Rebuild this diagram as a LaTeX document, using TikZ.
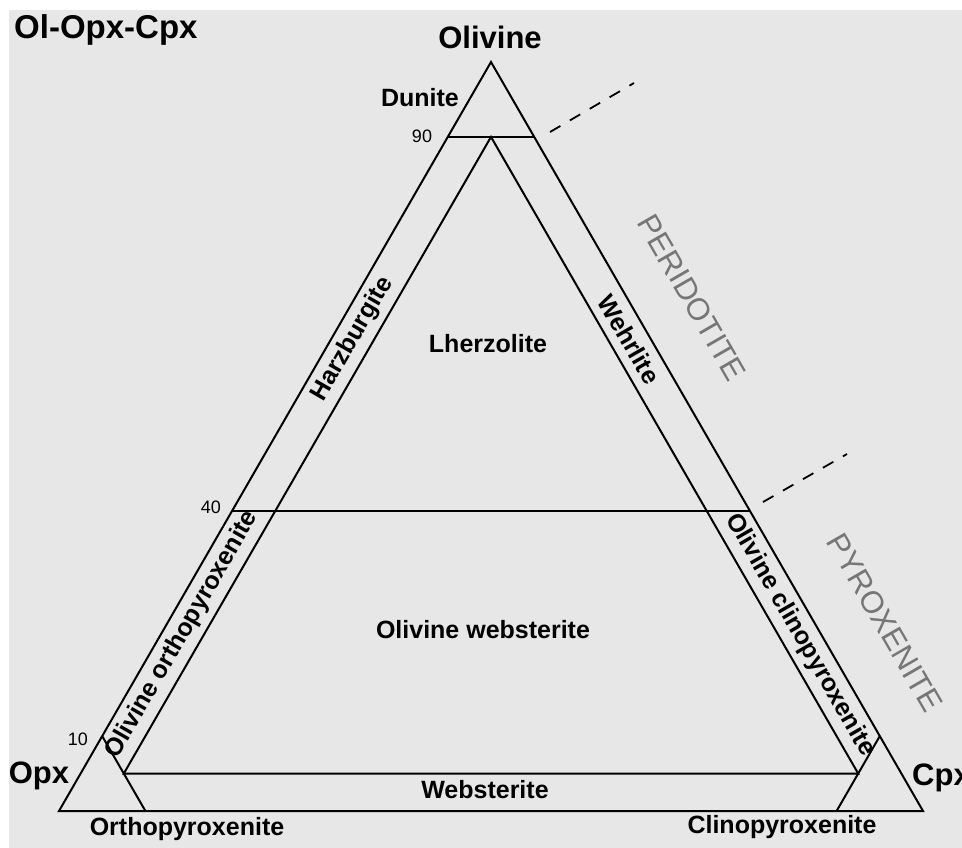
\documentclass[tikz,border=0pt]{standalone}
\usepackage{fontspec}
\setmainfont{Liberation Sans}
\definecolor{bgc}{RGB}{231,231,231}
\definecolor{zonec}{RGB}{118,118,118}
\tikzset{
  edge/.style={line width=2pt, black},
  sep/.style={line width=1.8pt, black, dash pattern=on 12pt off 11pt},
  fld/.style={font=\bfseries\fontsize{25}{28}\selectfont, inner sep=0pt},
  ttl/.style={font=\bfseries\fontsize{31}{34}\selectfont, inner sep=0pt},
  num/.style={font=\fontsize{18}{20}\selectfont, inner sep=0pt},
  zone/.style={font=\fontsize{31}{34}\selectfont, text=zonec, inner sep=0pt},
}
\begin{document}
\begin{tikzpicture}[x=1pt,y=-1pt]
\useasboundingbox (0,0) rectangle (962,848);
\fill[bgc] (9,10) rectangle (962,848);
% vertices
\coordinate (O) at (491,62);
\coordinate (P) at (59,811);
\coordinate (C) at (923,811);
% Ol 90 line
\coordinate (d1) at (barycentric cs:O=0.9,P=0.1);
\coordinate (d2) at (barycentric cs:O=0.9,C=0.1);
\coordinate (dm) at (barycentric cs:O=0.9,P=0.05,C=0.05);
% Ol 40 line
\coordinate (f1) at (barycentric cs:O=0.4,P=0.6);
\coordinate (f2) at (barycentric cs:O=0.4,C=0.6);
% Opx 90 line
\coordinate (t1) at (barycentric cs:O=0.1,P=0.9);
\coordinate (t2) at (barycentric cs:P=0.9,C=0.1);
% Cpx 90 line
\coordinate (t3) at (barycentric cs:O=0.1,C=0.9);
\coordinate (t4) at (barycentric cs:C=0.9,P=0.1);
% websterite line (Ol 5)
\coordinate (w1) at (barycentric cs:O=0.05,P=0.9,C=0.05);
\coordinate (w2) at (barycentric cs:O=0.05,P=0.05,C=0.9);
% dashed separators
\coordinate (ds1) at (550,132);
\coordinate (de1) at (634,83);
\coordinate (ds2) at (763,502);
\coordinate (de2) at (847,454);

\draw[edge] (O) -- (P) -- (C) -- cycle;
\draw[edge] (d1) -- (d2);
\draw[edge] (f1) -- (f2);
\draw[edge] (t1) -- (t2);
\draw[edge] (t3) -- (t4);
\draw[edge] (dm) -- (w1) -- (w2) -- cycle;
\draw[sep] (ds1) -- (de1);
\draw[sep] (ds2) -- (de2);

% titles and corner labels
\node[ttl, font=\bfseries\fontsize{33}{36}\selectfont, anchor=base west] (title) at (14,39) {Ol-Opx-Cpx};
\node[ttl, anchor=base] (lol) at (490,49) {Olivine};
\node[ttl, anchor=base] (lopx) at (39,783) {Opx};
\node[ttl, anchor=base west] (lcpx) at (912,785) {Cpx};

% numbers
\node[num, anchor=base] (n90) at (422,143) {90};
\node[num, anchor=base] (n40) at (211,513) {40};
\node[num, anchor=base] (n10) at (78,745) {10};

% field labels
\node[fld, anchor=base] (dun) at (420,107) {Dunite};
\node[fld, anchor=base] (lhz) at (488,352) {Lherzolite};
\node[fld, anchor=base] (olw) at (483,638) {Olivine websterite};
\node[fld, anchor=base] (web) at (485,798) {Websterite};
\node[fld, anchor=base] (opxt) at (187,835) {Orthopyroxenite};
\node[fld, anchor=base] (cpxt) at (782,833) {Clinopyroxenite};
\node[fld, rotate=60] (hzb) at (barycentric cs:O=0.63,P=0.345,C=0.025) {Harzburgite};
\node[fld, rotate=-60] (whr) at (barycentric cs:O=0.63,P=0.025,C=0.345) {Wehrlite};
\node[fld, rotate=60] (oopx) at (barycentric cs:O=0.235,P=0.74,C=0.025) {Olivine orthopyroxenite};
\node[fld, rotate=-60] (ocpx) at (barycentric cs:O=0.235,P=0.025,C=0.74) {Olivine clinopyroxenite};

% zone labels
\node[zone, rotate=-60] (peri) at (692,298) {PERIDOTITE};
\node[zone, rotate=-60] (pyro) at (885,623) {PYROXENITE};
\end{tikzpicture}
\end{document}
